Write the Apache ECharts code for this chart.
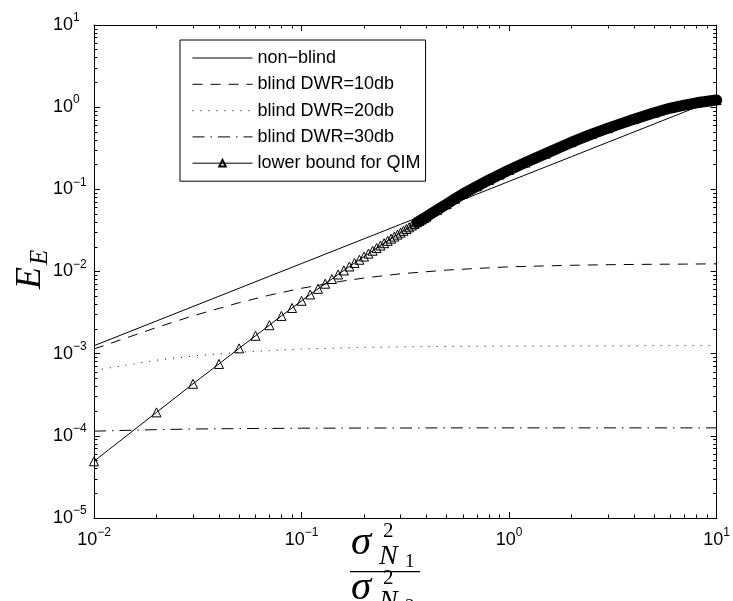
<!DOCTYPE html>
<html lang="en">
<head>
<meta charset="UTF-8">
<title>E_E</title>
<script src="https://cdn.jsdelivr.net/npm/echarts@6.0.0/dist/echarts.min.js"></script>
<style>
  html, body { margin: 0; padding: 0; background: #fff; }
  #main { width: 733px; height: 601px; }
</style>
</head>
<body>
<div id="main"></div>
<script>
// tick values
const xDecades = [0.01, 0.1, 1, 10];
const xMinor = [0.02, 0.03, 0.04, 0.05, 0.06, 0.07, 0.08, 0.09,
                0.2, 0.3, 0.4, 0.5, 0.6, 0.7, 0.8, 0.9,
                2, 3, 4, 5, 6, 7, 8, 9];
const yDecades = [1e-5, 1e-4, 1e-3, 1e-2, 1e-1, 1, 10];
const yMinor = [2e-5, 3e-5, 4e-5, 5e-5, 6e-5, 7e-5, 8e-5, 9e-5,
                2e-4, 3e-4, 4e-4, 5e-4, 6e-4, 7e-4, 8e-4, 9e-4,
                2e-3, 3e-3, 4e-3, 5e-3, 6e-3, 7e-3, 8e-3, 9e-3,
                0.02, 0.03, 0.04, 0.05, 0.06, 0.07, 0.08, 0.09,
                0.2, 0.3, 0.4, 0.5, 0.6, 0.7, 0.8, 0.9,
                2, 3, 4, 5, 6, 7, 8, 9];

// curves
const names = ['non\u2212blind', 'blind DWR=10db', 'blind DWR=20db', 'blind DWR=30db', 'lower bound for QIM'];
const xCurve = [0.01, 0.02, 0.03, 0.05, 0.07, 0.1, 0.15, 0.2, 0.3, 0.5, 0.7, 1, 1.5, 2, 3, 5, 7, 10];
const nonBlind = [0.00125, 0.0025, 0.00375, 0.00625, 0.00875, 0.0125, 0.01875, 0.025, 0.0375,
                  0.0625, 0.0875, 0.125, 0.1875, 0.25, 0.375, 0.625, 0.875, 1.25];
const blind10 = [1.14e-3, 2.08e-3, 2.89e-3, 4.17e-3, 5.15e-3, 6.25e-3, 7.5e-3, 8.33e-3, 9.38e-3,
                 0.0104, 0.0109, 0.0114, 0.0117, 0.0119, 0.0121, 0.01225, 0.0123, 0.0124];
const blind20 = [6.25e-4, 8.33e-4, 9.38e-4, 1.04e-3, 1.09e-3, 1.14e-3, 1.17e-3, 1.19e-3, 1.21e-3,
                 1.225e-3, 1.23e-3, 1.24e-3, 1.24e-3, 1.245e-3, 1.245e-3, 1.25e-3, 1.25e-3, 1.25e-3];
const blind30 = [1.14e-4, 1.19e-4, 1.21e-4, 1.225e-4, 1.23e-4, 1.24e-4, 1.24e-4, 1.245e-4, 1.245e-4,
                 1.25e-4, 1.25e-4, 1.25e-4, 1.25e-4, 1.25e-4, 1.25e-4, 1.25e-4, 1.25e-4, 1.25e-4];

const xQim = [0.01, 0.02, 0.03, 0.04, 0.05, 0.06, 0.07, 0.08, 0.09, 0.1,
              0.11, 0.12, 0.13, 0.14, 0.15, 0.16, 0.17, 0.18, 0.19, 0.2,
              0.21, 0.22, 0.23, 0.24, 0.25, 0.26, 0.27, 0.28, 0.29, 0.3,
              0.31, 0.32, 0.33, 0.34, 0.35, 0.36, 0.37, 0.38, 0.39, 0.4,
              0.45, 0.5, 0.55, 0.6, 0.7, 0.8, 0.9, 1, 1.2, 1.5,
              2, 2.5, 3, 4, 5, 6, 7, 8, 9, 10];
const qim = [4.9e-5, 1.93e-4, 4.3e-4, 7.5e-4, 1.16e-3, 1.65e-3, 2.22e-3, 2.88e-3, 3.6e-3, 4.4e-3,
             5.25e-3, 6.15e-3, 7.1e-3, 8.1e-3, 9.2e-3, 0.0103, 0.0115, 0.0127, 0.0139, 0.0152,
             0.0165, 0.0179, 0.0193, 0.0207, 0.0221, 0.0236, 0.0251, 0.0266, 0.0281, 0.0297,
             0.0313, 0.0329, 0.0345, 0.0362, 0.0379, 0.0396, 0.0413, 0.043, 0.0447, 0.0465,
             0.056, 0.066, 0.077, 0.088, 0.109, 0.13, 0.151, 0.172, 0.212, 0.272,
             0.375, 0.47, 0.555, 0.715, 0.855, 0.975, 1.06, 1.13, 1.18, 1.22];

function pairs(xs, ys) {
  return xs.map((x, i) => [x, ys[i]]);
}

const sans = 'Liberation Sans';
const serif = 'Liberation Serif';

function powLabel(v) {
  const e = Math.round(Math.log10(v));
  return '{b|10}{s|' + String(e).replace('-', '\u2212') + '}';
}
const powRich = {
  b: { fontFamily: sans, fontSize: 18, lineHeight: 26, color: '#000' },
  s: { fontFamily: sans, fontSize: 12, lineHeight: 12, verticalAlign: 'top', color: '#000' }
};

function logAxis(dim, pos, ticks, len, line, labels) {
  const ax = {
    type: 'log', logBase: 10, position: pos,
    min: dim === 'x' ? 0.01 : 1e-5,
    max: 10,
    splitLine: { show: false },
    axisLine: { show: line, lineStyle: { color: '#000', width: 1 } },
    axisTick: { show: true, inside: true, length: len, customValues: ticks,
                lineStyle: { color: '#000', width: 1 } },
    axisLabel: { show: false }
  };
  if (labels) {
    ax.axisLabel = {
      show: true, customValues: ticks, formatter: powLabel, rich: powRich,
      margin: dim === 'x' ? 9 : 41, align: dim === 'x' ? 'center' : 'left'
    };
  }
  return ax;
}

// small helper for the math text pieces of the axis labels
function tx(x, y, text, font) {
  return { type: 'text', x: x, y: y,
           style: { text: text, font: font, fill: '#000', verticalAlign: 'middle' } };
}

const chart = echarts.init(document.getElementById('main'));

const noFill = 'rgba(255,255,255,0)';
const lineBase = { type: 'line', xAxisIndex: 0, yAxisIndex: 0, symbol: 'none',
                   silent: true, emphasis: { disabled: true },
                   itemStyle: { color: noFill, borderColor: noFill } };

chart.setOption({
  animation: false,
  grid: { left: 94, right: 14, top: 25, bottom: 83 },
  xAxis: [
    logAxis('x', 'bottom', xDecades, 6, true, true),
    logAxis('x', 'bottom', xMinor, 3.5, false, false),
    logAxis('x', 'top', xDecades, 6, true, false),
    logAxis('x', 'top', xMinor, 3.5, false, false)
  ],
  yAxis: [
    logAxis('y', 'left', yDecades, 6, true, true),
    logAxis('y', 'left', yMinor, 3.5, false, false),
    logAxis('y', 'right', yDecades, 6, true, false),
    logAxis('y', 'right', yMinor, 3.5, false, false)
  ],
  legend: {
    data: names,
    orient: 'vertical',
    left: 180, top: 40,
    padding: [9, 5, 9, 12],
    itemWidth: 60, itemHeight: 8, itemGap: 8.3,
    lineStyle: { width: 1 },
    borderColor: '#000', borderWidth: 1, backgroundColor: '#fff',
    textStyle: { fontFamily: sans, fontSize: 18, lineHeight: 18, color: '#000' },
    selectedMode: false
  },
  series: [
    Object.assign({}, lineBase, { name: names[0], data: pairs(xCurve, nonBlind),
      lineStyle: { color: '#000', width: 1 } }),
    Object.assign({}, lineBase, { name: names[1], data: pairs(xCurve, blind10),
      lineStyle: { color: '#000', width: 1, type: [10, 8] } }),
    Object.assign({}, lineBase, { name: names[2], data: pairs(xCurve, blind20),
      lineStyle: { color: '#000', width: 1, type: [1, 7] } }),
    Object.assign({}, lineBase, { name: names[3], data: pairs(xCurve, blind30),
      lineStyle: { color: '#000', width: 1, type: [12, 6, 1.5, 6] } }),
    Object.assign({}, lineBase, { name: names[4], data: pairs(xQim, qim),
      symbol: 'triangle', symbolSize: 9, showAllSymbol: true, clip: false,
      itemStyle: { color: noFill, borderColor: '#000', borderWidth: 1 },
      lineStyle: { color: '#000', width: 1 } }),
    // dense marker band of the QIM bound
    Object.assign({}, lineBase, { name: 'band', data: pairs(xQim, qim).filter(p => p[0] >= 0.36),
      clip: false, lineStyle: { color: '#000', width: 11, cap: 'round' } })
  ],
  graphic: [
    // y label E_E
    {
      type: 'group', x: 33, y: 271, rotation: Math.PI / 2,
      children: [
        tx(-18, -2, 'E', 'italic 36px ' + serif),
        tx(6, 7, 'E', 'italic 25px ' + serif)
      ]
    },
    // x label: sigma^2_N1 / sigma^2_N2
    {
      type: 'group', x: 0, y: 0,
      children: [
        tx(351, 543, '\u03c3', 'italic 41px ' + serif),
        tx(383, 531, '2', '21px ' + serif),
        tx(379, 557, 'N', 'italic 28px ' + serif),
        tx(405, 562, '1', '19px ' + serif),
        { type: 'rect', shape: { x: 350, y: 571, width: 70, height: 1.3 }, style: { fill: '#000' } },
        tx(351, 588, '\u03c3', 'italic 41px ' + serif),
        tx(383, 578, '2', '21px ' + serif),
        tx(379, 602, 'N', 'italic 28px ' + serif),
        tx(405, 607, '2', '19px ' + serif)
      ]
    }
  ]
});
</script>
</body>
</html>
